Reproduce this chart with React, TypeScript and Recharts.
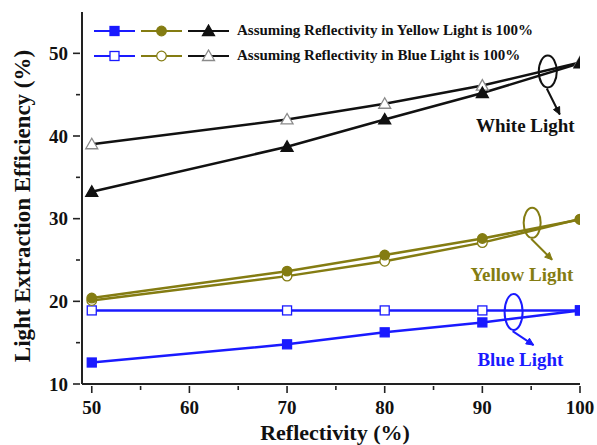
import React from "react";
import { LineChart, Line, XAxis, YAxis, ReferenceDot } from "recharts";

const reflectivity = [50, 70, 80, 90, 100];
const blueYellow100 = [12.6, 14.8, 16.25, 17.45, 18.9];
const blueBlue100 = [18.9, 18.9, 18.9, 18.9, 18.9];
const yellowYellow100 = [20.4, 23.65, 25.6, 27.6, 29.9];
const yellowBlue100 = [20.1, 23.05, 24.85, 27.1, 29.95];
const whiteYellow100 = [33.25, 38.7, 42.0, 45.2, 48.8];
const whiteBlue100 = [39.0, 42.0, 43.9, 46.1, 48.9];

const xTicks = [50, 55, 60, 65, 70, 75, 80, 85, 90, 95, 100];
const yTicks = [10, 15, 20, 25, 30, 35, 40, 45, 50, 55];

const data = reflectivity.map((r, i) => ({
  r,
  by: blueYellow100[i],
  bb: blueBlue100[i],
  yy: yellowYellow100[i],
  yb: yellowBlue100[i],
  wy: whiteYellow100[i],
  wb: whiteBlue100[i],
}));

const BLUE = "#1a1aff";
const OLIVE = "#847c12";
const BLACK = "#111";
const GREY = "#8a8a8a";
const AXIS = "#222";
const FONT = "'Liberation Serif', 'Times New Roman', serif";

type Kind = "square" | "circle" | "triangle";

const mark = (kind: Kind, cx: number, cy: number, stroke: string, fill: string) => {
  if (kind === "square")
    return <rect x={cx - 4.5} y={cy - 4.5} width={9} height={9} stroke={stroke} strokeWidth={1.3} fill={fill} />;
  if (kind === "circle") return <circle cx={cx} cy={cy} r={4.8} stroke={stroke} strokeWidth={1.3} fill={fill} />;
  return (
    <polygon
      points={`${cx},${cy - 6} ${cx - 6},${cy + 4.5} ${cx + 6},${cy + 4.5}`}
      stroke={stroke}
      strokeWidth={1.3}
      fill={fill}
    />
  );
};

const dotFn = (kind: Kind, stroke: string, fill: string) => (p: any) =>
  <g key={`${kind}-${p.index}-${fill}`}>{mark(kind, p.cx, p.cy, stroke, fill)}</g>;

const XTick = (p: any) => {
  const major = p.payload.value % 10 === 0;
  return (
    <g>
      <line x1={p.x} x2={p.x} y1={p.y} y2={p.y + (major ? 7 : 4)} stroke={AXIS} strokeWidth={1.6} />
      {major && (
        <text x={p.x} y={p.y + 28} textAnchor="middle" fontFamily={FONT} fontWeight="bold" fontSize={19} fill={BLACK}>
          {p.payload.value}
        </text>
      )}
    </g>
  );
};

const XTopTick = (p: any) => {
  const major = p.payload.value % 10 === 0;
  return <line x1={p.x} x2={p.x} y1={p.y} y2={p.y + (major ? 6 : 4)} stroke={AXIS} strokeWidth={1.6} />;
};

const YTick = (p: any) => {
  const major = p.payload.value % 10 === 0;
  if (p.payload.value === 55) return <g />;
  return (
    <g>
      <line x1={p.x} x2={p.x - (major ? 7 : 4)} y1={p.y} y2={p.y} stroke={AXIS} strokeWidth={1.6} />
      {major && (
        <text x={p.x - 12} y={p.y + 6.5} textAnchor="end" fontFamily={FONT} fontWeight="bold" fontSize={19} fill={BLACK}>
          {p.payload.value}
        </text>
      )}
    </g>
  );
};

const YRightTick = (p: any) => {
  const major = p.payload.value % 10 === 0;
  if (p.payload.value === 55) return <g />;
  return <line x1={p.x} x2={p.x + (major ? 6 : 4)} y1={p.y} y2={p.y} stroke={AXIS} strokeWidth={1.6} />;
};

const legendRows = [
  { text: "Assuming Reflectivity in Yellow Light is 100%", open: false },
  { text: "Assuming Reflectivity in Blue Light is 100%", open: true },
];

const LegendBox = () => (
  <div
    style={{
      position: "absolute",
      left: 93,
      top: 18,
      fontFamily: FONT,
      fontWeight: "bold",
      fontSize: 15,
      color: BLACK,
      pointerEvents: "none",
    }}
  >
    {legendRows.map((row) => (
      <div key={row.text} style={{ display: "flex", alignItems: "center", height: 25 }}>
        <svg width={136} height={14}>
          {[
            { c: BLUE, k: "square" as Kind, s: BLUE },
            { c: OLIVE, k: "circle" as Kind, s: OLIVE },
            { c: BLACK, k: "triangle" as Kind, s: row.open ? GREY : BLACK },
          ].map((m, i) => (
            <g key={i}>
              <line x1={i * 47 + 1} x2={i * 47 + 42} y1={7} y2={7} stroke={m.c} strokeWidth={2.2} />
              {mark(m.k, i * 47 + 21.5, 7, m.s, row.open ? "#fff" : m.c)}
            </g>
          ))}
        </svg>
        <span style={{ marginLeft: 8, whiteSpace: "nowrap" }}>{row.text}</span>
      </div>
    ))}
  </div>
);

const loop = (color: string, rx: number, ry: number, dx: number, dy: number) => (p: any) => {
  const cx = Number(p.cx);
  const cy = Number(p.cy);
  const sx = cx - 1;
  const sy = cy + ry + 1;
  const ex = cx + dx;
  const ey = cy + dy;
  const ang = Math.atan2(ey - sy, ex - sx);
  const h = 8;
  const a1 = ang + 2.7;
  const a2 = ang - 2.7;
  return (
    <g>
      <ellipse cx={cx} cy={cy} rx={rx} ry={ry} fill="none" stroke={color} strokeWidth={2} />
      <path d={`M${sx},${sy} L${ex},${ey}`} stroke={color} strokeWidth={2} fill="none" />
      <path
        d={`M${ex},${ey} L${ex + h * Math.cos(a1)},${ey + h * Math.sin(a1)} L${ex + h * Math.cos(a2)},${ey + h * Math.sin(a2)} Z`}
        fill={color}
        stroke={color}
      />
    </g>
  );
};

const label = (text: string, color: string) => (p: any) => (
  <text x={p.cx} y={p.cy + 6} textAnchor="middle" fontFamily={FONT} fontWeight="bold" fontSize={19} fill={color}>
    {text}
  </text>
);

export default function App() {
  return (
    <div style={{ position: "absolute", left: 0, top: 0, width: 597, height: 445, background: "#fff" }}>
      <LineChart width={597} height={445} data={data} margin={{ top: 12, right: 17, left: 0, bottom: 0 }}>
        <XAxis
          dataKey="r"
          type="number"
          domain={[49, 100]}
          ticks={xTicks}
          allowDataOverflow
          height={61}
          tickLine={false}
          tickSize={0}
          tick={<XTick />}
          stroke={AXIS}
          strokeWidth={2}
          label={{ value: "Reflectivity (%)", position: "insideBottom", offset: 5, dx: 4, style: { fontFamily: FONT, fontWeight: "bold", fontSize: 22, fill: BLACK } }}
        />
        <XAxis
          xAxisId="top"
          orientation="top"
          dataKey="r"
          type="number"
          domain={[49, 100]}
          ticks={xTicks}
          allowDataOverflow
          height={0}
          tickLine={false}
          tickSize={0}
          tick={<XTopTick />}
          stroke={AXIS}
          strokeWidth={2}
        />
        <YAxis
          type="number"
          domain={[10, 55]}
          ticks={yTicks}
          allowDataOverflow
          width={82}
          tickLine={false}
          tickSize={0}
          tick={<YTick />}
          stroke={AXIS}
          strokeWidth={2}
          label={{ value: "Light Extraction Efficiency (%)", angle: -90, position: "insideLeft", offset: 22, dy: 8, style: { textAnchor: "middle", fontFamily: FONT, fontWeight: "bold", fontSize: 23, fill: BLACK } }}
        />
        <YAxis
          yAxisId="right"
          orientation="right"
          type="number"
          domain={[10, 55]}
          ticks={yTicks}
          allowDataOverflow
          width={0}
          tickLine={false}
          tickSize={0}
          tick={<YRightTick />}
          stroke={AXIS}
          strokeWidth={2}
        />
        <Line dataKey="bb" stroke={BLUE} strokeWidth={2.5} dot={dotFn("square", BLUE, "#fff")} isAnimationActive={false} />
        <Line dataKey="by" stroke={BLUE} strokeWidth={2.5} dot={dotFn("square", BLUE, BLUE)} isAnimationActive={false} />
        <Line dataKey="yb" stroke={OLIVE} strokeWidth={2.5} dot={dotFn("circle", OLIVE, "#fff")} isAnimationActive={false} />
        <Line dataKey="yy" stroke={OLIVE} strokeWidth={2.5} dot={dotFn("circle", OLIVE, OLIVE)} isAnimationActive={false} />
        <Line dataKey="wb" stroke={BLACK} strokeWidth={2.5} dot={dotFn("triangle", GREY, "#fff")} isAnimationActive={false} />
        <Line dataKey="wy" stroke={BLACK} strokeWidth={2.5} dot={dotFn("triangle", BLACK, BLACK)} isAnimationActive={false} />
        <ReferenceDot x={96.7} y={47.8} shape={loop(BLACK, 9, 16, 12, 43)} ifOverflow="visible" />
        <ReferenceDot x={95.1} y={29.5} shape={loop(OLIVE, 8.5, 15, 20, 37)} ifOverflow="visible" />
        <ReferenceDot x={93.2} y={18.7} shape={loop(BLUE, 9, 18, 20, 33)} ifOverflow="visible" />
        <ReferenceDot x={94.4} y={41.2} shape={label("White Light", BLACK)} ifOverflow="visible" />
        <ReferenceDot x={94.05} y={23.2} shape={label("Yellow Light", OLIVE)} ifOverflow="visible" />
        <ReferenceDot x={93.9} y={12.9} shape={label("Blue Light", BLUE)} ifOverflow="visible" />
      </LineChart>
      <LegendBox />
    </div>
  );
}
